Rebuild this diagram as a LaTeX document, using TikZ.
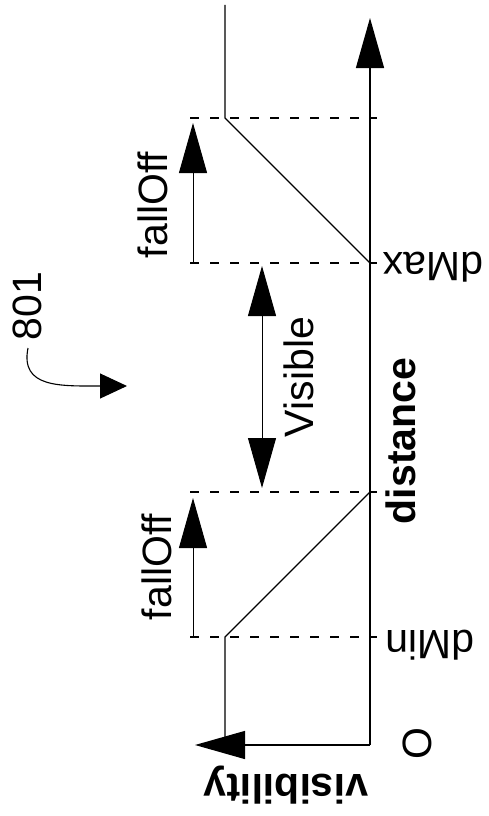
\documentclass[tikz,border=0pt]{standalone}
\usepackage{fontspec}
\setmainfont{Liberation Sans}
\usepackage{tikz}
\usetikzlibrary{arrows.meta,calc}

\begin{document}
\begin{tikzpicture}[x=1pt,y=-1pt,
    lab/.style={inner sep=0pt, font=\fontsize{41}{48}\selectfont},
    boldlab/.style={lab, font=\fontsize{41}{48}\selectfont\bfseries},
    axis/.style={line width=1.3pt, -{Triangle[length=50pt,width=28pt]}},
    curve/.style={line width=1.2pt},
    guide/.style={line width=1.1pt, dash pattern=on 9pt off 11pt},
    span/.style={line width=1pt, -{Triangle[length=50pt,width=28pt]}},
    both/.style={line width=1pt, {Triangle[length=50pt,width=28pt]}-{Triangle[length=50pt,width=28pt]}}]
    \useasboundingbox (0,0) rectangle (489,816);

    % axes (distance runs up, visibility runs left)
    \coordinate (orig) at (370,745);
    \coordinate (distEnd) at (370,18);
    \coordinate (visEnd) at (195,745);
    \draw[axis] (orig) -- (distEnd);
    \draw[axis] (orig) -- (visEnd);

    % visibility curve
    \coordinate (vMin) at (225,637);
    \coordinate (dMin) at (370,637);
    \coordinate (fMin) at (370,492);
    \coordinate (dMax) at (370,263);
    \coordinate (fMax) at (225,118);
    \coordinate (vTop) at (225,5);
    \draw[curve] (225,745) -- (vMin) -- (fMin);
    \draw[curve] (dMax) -- (fMax) -- (vTop);

    % dashed guides
    \foreach \yy in {637,492,263,118}
        \draw[guide] (190,\yy) -- (377,\yy);

    % fallOff arrows
    \draw[span] (193,637) -- (193,498);
    \draw[span] (193,263) -- (193,123);
    \draw[both] (262,488) -- (262,266);

    % labels
    \node[lab, rotate=90] (fallLo) at (157,567) {fallOff};
    \node[lab, rotate=90] (fallHi) at (153,205) {fallOff};
    \node[lab, rotate=90] (vis) at (299,377) {Visible};
    \node[boldlab, rotate=90] (dist) at (401,441) {distance};
    \node[lab, rotate=180] (minLab) at (430,645) {dMin};
    \node[lab, rotate=180] (maxLab) at (433,267) {dMax};
    \node[boldlab, rotate=180] (visLab) at (286,785) {visibility};
    \node[lab, rotate=90] (zero) at (417.5,743.5) {O};

    % reference numeral
    \node[lab, rotate=90] (ref) at (27.5,306) {801};
    \coordinate (refEnd) at (127,386);
    \draw[line width=1.1pt, -{Triangle[length=27pt,width=25pt]}]
        (28,348) .. controls (20,388) and (60,386) .. (refEnd);
\end{tikzpicture}
\end{document}
